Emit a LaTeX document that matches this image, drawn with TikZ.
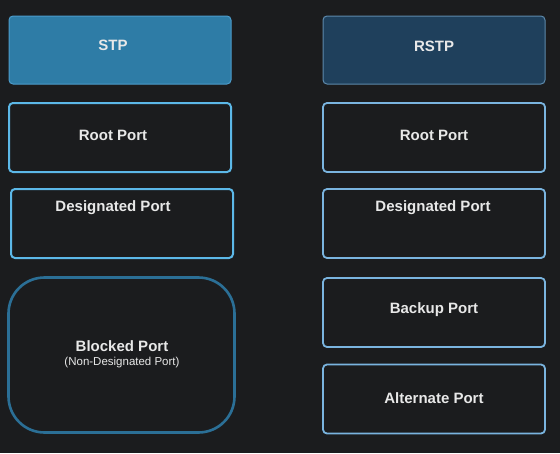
\documentclass[tikz,border=0pt]{standalone}
\usepackage{fontspec}
\setmainfont{Liberation Sans}
\usetikzlibrary{positioning}
\definecolor{spBack}{HTML}{1B1C1E}
\definecolor{spText}{HTML}{E8E8E8}
\definecolor{spHead}{HTML}{2E7CA6}
\definecolor{spHeadLine}{HTML}{4C9CCB}
\definecolor{rsHead}{HTML}{1F405C}
\definecolor{rsHeadLine}{HTML}{5D89AB}
\definecolor{spLine}{HTML}{5CB8E8}
\definecolor{rsLine}{HTML}{7AB4DF}
\definecolor{spBlock}{HTML}{2B6F96}
\tikzset{
 ports/.style={font=\bfseries\fontsize{15}{17}\selectfont,text=spText},
 portbox/.style={rectangle,rounded corners=4pt,minimum width=222pt,minimum height=69pt,
   fill=spBack,inner sep=0pt},
 stphead/.style={portbox,fill=spHead,draw=spHeadLine,line width=1pt,minimum height=68pt},
 rstphead/.style={portbox,fill=rsHead,draw=rsHeadLine,line width=1pt,minimum height=68pt},
 stpport/.style={portbox,draw=spLine,line width=2pt},
 rstpport/.style={portbox,draw=rsLine,line width=1.8pt},
 blockbox/.style={portbox,draw=spBlock,line width=2.6pt,rounded corners=36pt,
   minimum width=226pt,minimum height=155pt},
 sub/.style={font=\fontsize{11.5}{13}\selectfont,text=spText}
}

\begin{document}
\begin{tikzpicture}[ports,x=1pt,y=-1pt]
 \fill[spBack] (0,0) rectangle (560,453);
 \useasboundingbox (0,0) rectangle (560,453);
 % STP column
 \node[stphead] (stp) at (120,50) {};
 \node[stpport] (stpRoot) at (120,137.5) {};
 \node[stpport] (stpDesig) at (122,223.5) {};
 \node[blockbox] (stpBlock) at (121.5,355) {};
 % RSTP column
 \node[rstphead] (rstp) at (434,50) {};
 \node[rstpport] (rstpRoot) at (434,137.5) {};
 \node[rstpport] (rstpDesig) at (434,223.5) {};
 \node[rstpport] (rstpBackup) at (434,312.5) {};
 \node[rstpport] (rstpAlt) at (434,399) {};
 % labels
 \node (stpT) at (113,45) {STP};
 \node (rstpT) at (434,46) {RSTP};
 \node (stpRootT) at (113,135) {Root Port};
 \node (rstpRootT) at (434,135) {Root Port};
 \node (stpDesigT) at (113,208) {Designated Port};
 \node (rstpDesigT) at (433,208) {Designated Port};
 \node (stpBlockT) at (122,346.5) {Blocked Port};
 \node[sub] (stpBlockS) at (122,363) {(Non-Designated Port)};
 \node (rstpBackupT) at (434,310) {Backup Port};
 \node (rstpAltT) at (434,398) {Alternate Port};
\end{tikzpicture}
\end{document}
